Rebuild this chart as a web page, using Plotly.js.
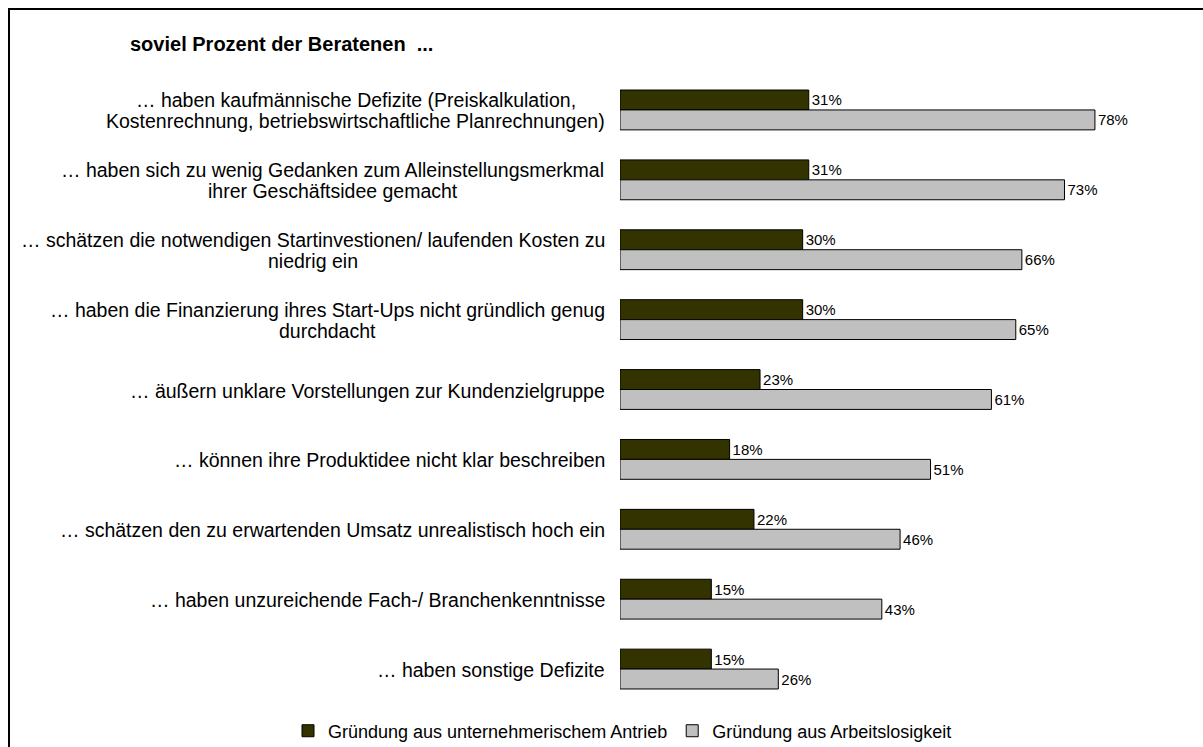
<!DOCTYPE html>
<html>
<head>
<meta charset="utf-8">
<script src="https://cdn.plot.ly/plotly-3.0.1.min.js"></script>
<style>
html,body{margin:0;padding:0;background:#fff;}
#wrap{position:relative;width:1203px;height:747px;overflow:hidden;}
#frame{position:absolute;left:8px;top:8px;width:1300px;height:900px;border-left:2px solid #000;border-top:2px solid #000;pointer-events:none;z-index:5;}
#chart{width:1203px;height:747px;}
</style>
</head>
<body>
<div id="wrap"><div id="chart"></div><div id="frame"></div></div>
<script>
const categories = [
  ["… haben kaufmännische Defizite (Preiskalkulation,", "Kostenrechnung, betriebswirtschaftliche Planrechnungen)"],
  ["… haben sich zu wenig Gedanken zum Alleinstellungsmerkmal", "ihrer Geschäftsidee gemacht"],
  ["… schätzen die notwendigen Startinvestionen/ laufenden Kosten zu", "niedrig ein"],
  ["… haben die Finanzierung ihres Start-Ups nicht gründlich genug", "durchdacht"],
  ["… äußern unklare Vorstellungen zur Kundenzielgruppe"],
  ["… können ihre Produktidee nicht klar beschreiben"],
  ["… schätzen den zu erwartenden Umsatz unrealistisch hoch ein"],
  ["… haben unzureichende Fach-/ Branchenkenntnisse"],
  ["… haben sonstige Defizite"]
];
const seriesNames = ["Gründung aus unternehmerischem Antrieb", "Gründung aus Arbeitslosigkeit"];
const antrieb = [31, 31, 30, 30, 23, 18, 22, 15, 15];
const arbeitslosigkeit = [78, 73, 66, 65, 61, 51, 46, 43, 26];
const titleText = "soviel Prozent der Beratenen  ...";

const FONT = "Liberation Sans, Arial, sans-serif";
const LABEL_SIZE = 19.5;
const LINE_GAP = 21;
const ids = categories.map((c, i) => i);

const traces = [
  {type:'bar', orientation:'h', name:seriesNames[0], y:ids, x:antrieb,
   marker:{color:'#333300', line:{color:'#000', width:1}},
   text:antrieb.map(v => v + '%'), textposition:'outside', cliponaxis:false,
   textfont:{family:FONT, size:15, color:'#000'}, hoverinfo:'x'},
  {type:'bar', orientation:'h', name:seriesNames[1], y:ids, x:arbeitslosigkeit,
   marker:{color:'#C0C0C0', line:{color:'#000', width:1}},
   text:arbeitslosigkeit.map(v => v + '%'), textposition:'outside', cliponaxis:false,
   textfont:{family:FONT, size:15, color:'#000'}, hoverinfo:'x'}
];

// measure label lines so that multi-line labels are centred within a right-aligned block
const cv = document.createElement('canvas').getContext('2d');
cv.font = LABEL_SIZE + 'px "Liberation Sans", Arial, sans-serif';
const annotations = [];
categories.forEach((lines, i) => {
  const maxW = Math.max(...lines.map(l => cv.measureText(l).width));
  const n = lines.length;
  lines.forEach((line, k) => {
    annotations.push({
      xref:'x', yref:'y', x:0, y:i, text:line, showarrow:false,
      xanchor:'center', yanchor:'middle', align:'center',
      xshift:-(15 + maxW / 2),
      yshift:((n - 1) / 2 - k) * LINE_GAP - 1,
      font:{family:FONT, size:LABEL_SIZE, color:'#000'}
    });
  });
});

const layout = {
  width:1203, height:747,
  margin:{l:620, r:35, t:75, b:43, autoexpand:false},
  paper_bgcolor:'#fff', plot_bgcolor:'#fff',
  font:{family:FONT, size:14, color:'#000'},
  title:{text:'<b>' + titleText + '</b>', xref:'container', yref:'container',
         x:130/1203, xanchor:'left', y:1-44/747, yanchor:'middle',
         font:{family:FONT, size:20, color:'#000'}},
  barmode:'group', bargap:0.43, bargroupgap:0,
  xaxis:{range:[0, 90], showgrid:false, zeroline:false, showticklabels:false, showline:false, ticks:''},
  yaxis:{type:'linear', range:[8.5, -0.5], showgrid:false, zeroline:false, showticklabels:false, showline:false, ticks:''},
  showlegend:true,
  legend:{orientation:'h', x:(288-620)/548, xanchor:'left', y:-0.043, yanchor:'middle',
          font:{family:FONT, size:18, color:'#000'}, traceorder:'normal',
          itemwidth:30, tracegroupgap:0, itemclick:false},
  annotations:annotations
};

Plotly.newPlot('chart', traces, layout, {displayModeBar:false, staticPlot:true});
</script>
</body>
</html>
